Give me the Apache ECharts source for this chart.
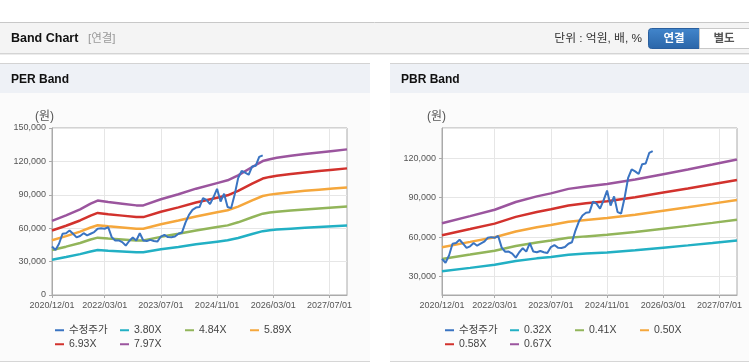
<!DOCTYPE html>
<html><head><meta charset="utf-8">
<script src="https://cdn.jsdelivr.net/npm/echarts@6/dist/echarts.min.js"></script>
<style>html,body{margin:0;padding:0;background:#fff;} #c{width:749px;height:364px;}</style>
</head><body><div id="c"></div>
<script>
// ---------- data ----------
const months = [
 '2020/12/01',
 '2021/01/01','2021/02/01','2021/03/01','2021/04/01','2021/05/01','2021/06/01','2021/07/01','2021/08/01','2021/09/01','2021/10/01','2021/11/01','2021/12/01',
 '2022/01/01','2022/02/01','2022/03/01','2022/04/01','2022/05/01','2022/06/01','2022/07/01','2022/08/01','2022/09/01','2022/10/01','2022/11/01','2022/12/01',
 '2023/01/01','2023/02/01','2023/03/01','2023/04/01','2023/05/01','2023/06/01','2023/07/01','2023/08/01','2023/09/01','2023/10/01','2023/11/01','2023/12/01',
 '2024/01/01','2024/02/01','2024/03/01','2024/04/01','2024/05/01','2024/06/01','2024/07/01','2024/08/01','2024/09/01','2024/10/01','2024/11/01','2024/12/01',
 '2025/01/01','2025/02/01','2025/03/01','2025/04/01','2025/05/01','2025/06/01','2025/07/01','2025/08/01','2025/09/01','2025/10/01','2025/11/01','2025/12/01',
 '2026/01/01','2026/02/01','2026/03/01','2026/04/01','2026/05/01','2026/06/01','2026/07/01','2026/08/01','2026/09/01','2026/10/01','2026/11/01','2026/12/01',
 '2027/01/01','2027/02/01','2027/03/01','2027/04/01','2027/05/01','2027/06/01','2027/07/01','2027/08/01','2027/09/01','2027/10/01','2027/11/01','2027/12/01'
];
const xTickLabels = ['2020/12/01','2022/03/01','2023/07/01','2024/11/01','2026/03/01','2027/07/01'];

// adjusted share price, monthly from 2020/12
const price = [43500,40500,46000,55000,55500,58000,55000,51800,53000,55500,53500,55000,56500,59500,60000,59500,60900,52000,48900,49000,47500,44400,48500,51600,49000,55500,49000,48500,49500,48500,48000,52500,54000,52000,51800,52500,55000,56100,65000,72000,76500,78500,79000,87000,85500,81600,88000,95400,84000,91000,79000,78000,90000,105000,111500,110000,108000,115500,116000,124000,125400];

// PER band (values at key months)
const perNames = ['3.80X','4.84X','5.89X','6.93X','7.97X'];
const perDates = ['2020/12/01','2021/04/01','2021/08/01','2021/11/01','2022/01/01','2022/04/01','2022/08/01','2022/12/01','2023/02/01','2023/07/01','2023/12/01','2024/05/01','2024/11/01','2025/02/01','2025/05/01','2025/09/01','2025/12/01','2026/02/01','2026/04/01','2026/08/01','2026/12/01','2027/04/01','2027/08/01','2027/12/01'];
const per380 = [31750,34090,36710,39100,40430,39810,39100,38380,38380,41000,43150,45530,47920,49110,51260,54830,57360,58170,58740,59600,60360,61030,61700,62370];
const per484 = [40450,43420,46760,49800,51500,50710,49800,48890,48890,52230,54960,58000,61030,62550,65280,69840,73060,74090,74820,75910,76880,77730,78580,79430];
const per589 = [49220,52840,56900,60600,62670,61710,60600,59490,59490,63550,66880,70570,74270,76120,79440,84990,88900,90160,91040,92380,93560,94590,95630,96660];
const per693 = [57910,62170,66950,71300,73730,72600,71300,69990,69990,74780,78690,83040,87390,89560,93470,99990,104600,106080,107120,108690,110080,111300,112510,113730];
const per797 = [66600,71500,77000,82000,84800,83500,82000,80500,80500,86000,90500,95500,100500,103000,107500,115000,120300,122000,123200,125000,126600,128000,129400,130800];

// PBR band (values at key months)
const pbrNames = ['0.32X','0.41X','0.50X','0.58X','0.67X'];
const pbrDates = ['2020/12/01','2021/08/01','2022/03/01','2022/09/01','2023/03/01','2023/07/01','2023/12/01','2024/05/01','2024/11/01','2025/07/01','2026/03/01','2026/10/01','2027/05/01','2027/12/01'];
const pbr032 = [34030,36630,38950,41790,43860,44970,46610,47480,48390,50030,52010,53740,55530,57360];
const pbr041 = [43420,46740,49690,53320,55970,57380,59470,60580,61750,63840,66360,68570,70850,73190];
const pbr050 = [52390,56390,59950,64330,67520,69230,71750,73090,74500,77020,80060,82730,85480,88300];
const pbr058 = [61420,66120,70300,75430,79170,81170,84130,85700,87350,90310,93870,97010,100220,103530];
const pbr067 = [70600,76000,80800,86700,91000,93300,96700,98500,100400,103800,107900,111500,115200,119000];

const priceName = '수정주가';
// ---------- styles ----------
const FONT = "'Liberation Sans','Noto Sans CJK KR',sans-serif";
const colors = {price:'#3a74c2', b1:'#22b0c4', b2:'#92b55a', b3:'#f5a73c', b4:'#d2322d', b5:'#9b559e'};
const bandColors = [colors.b1, colors.b2, colors.b3, colors.b4, colors.b5];

const showTick = (i, v) => xTickLabels.indexOf(v) >= 0;
const pairs = (dates, vals) => dates.map((d, k) => [d, vals[k]]);
const fmt = v => (v % 30000 === 0) ? v.toLocaleString('en-US') : '';

function xAxisOf(gi){
  return {
    type:'category', gridIndex:gi, data:months, boundaryGap:false,
    axisLine:{lineStyle:{color:'#aaa'}},
    axisTick:{show:true, interval:showTick, length:3, lineStyle:{color:'#aaa'}},
    axisLabel:{interval:showTick, fontSize:9, color:'#555', margin:6, fontFamily:FONT},
    splitLine:{show:true, interval:showTick, lineStyle:{color:'#e6e6e6'}}
  };
}
function yAxisOf(gi, min, max, interval){
  const a = {
    type:'value', gridIndex:gi, min:min, max:max,
    axisLine:{show:true, lineStyle:{color:'#aaa'}},
    axisTick:{show:true, length:3, lineStyle:{color:'#aaa'}},
    axisLabel:{fontSize:9, color:'#555', margin:6, fontFamily:FONT, formatter:fmt, showMinLabel: min===0, showMaxLabel: interval!==undefined},
    splitLine:{lineStyle:{color:'#e6e6e6'}}
  };
  if (interval !== undefined) a.interval = interval;
  return a;
}

const series = [];
function addChart(gi, names, dates, bands){
  names.forEach((n, k) => {
    series.push({
      name:n, type:'line', xAxisIndex:gi, yAxisIndex:gi, data:pairs(dates, bands[k]),
      showSymbol:false, symbol:'none', connectNulls:true,
      lineStyle:{width:2.5, color:bandColors[k]}, itemStyle:{color:bandColors[k]}, z:2
    });
  });
  series.push({
    name:priceName, type:'line', xAxisIndex:gi, yAxisIndex:gi, data:price,
    showSymbol:false, symbol:'none',
    lineStyle:{width:2, color:colors.price}, itemStyle:{color:colors.price}, z:4
  });
}
addChart(0, perNames, perDates, [per380, per484, per589, per693, per797]);
addChart(1, pbrNames, pbrDates, [pbr032, pbr041, pbr050, pbr058, pbr067]);

// legends: one per item, laid out in a 4-column grid
const legends = [];
function addLegends(offset, names){
  const all = [priceName].concat(names);
  all.forEach((n, k) => {
    legends.push({
      data:[n], left: 55 + offset + (k % 4) * 65, top: (k < 4 ? 325 : 339), padding:0,
      icon:'rect', itemWidth:9, itemHeight:2, itemGap:0,
      textStyle:{fontSize:10.5, color:'#444', fontFamily:FONT}
    });
  });
}
addLegends(0, perNames);
addLegends(390, pbrNames);

// page chrome
const T = (x, y, text, extra) => Object.assign({type:'text', x:x, y:y, z:20, silent:true,
  style:Object.assign({text:text, fontFamily:FONT, fontSize:11, fill:'#333', align:'left', verticalAlign:'middle'}, extra || {})});
const R = (x, y, w, h, style, z) => ({type:'rect', z:(z===undefined?-10:z), silent:true, shape:{x:x, y:y, width:w, height:h}, style:style});
const L = (x1, y1, x2, y2, c) => ({type:'line', z:-5, silent:true, shape:{x1:x1, y1:y1, x2:x2, y2:y2}, style:{stroke:c, lineWidth:1}});

const graphics = [
  R(0, 23, 749, 30, {fill:'#f4f4f4'}),
  L(0, 22.5, 749, 22.5, '#c8c8c8'),
  R(0, 53, 749, 1, {fill:'#d4d4d4'}),
  R(0, 54, 749, 1, {fill:'#ececec'}),
  T(11, 38.5, 'Band Chart', {fontSize:12.5, fontWeight:'bold', fill:'#111'}),
  T(88, 38.5, '[연결]', {fontSize:11.5, fill:'#999'}),
  T(642, 39, '단위 : 억원, 배, %', {fontSize:11.8, fill:'#333', align:'right'}),
  {type:'rect', z:5, silent:true, shape:{x:648.5, y:28.5, width:51, height:20, r:[3,0,0,3]},
   style:{fill:new echarts.graphic.LinearGradient(0,0,0,1,[{offset:0,color:'#4286cc'},{offset:1,color:'#2a65a8'}]), stroke:'#2a5f9e', lineWidth:1}},
  {type:'rect', z:5, silent:true, shape:{x:699.5, y:28.5, width:52, height:20}, style:{fill:'#fff', stroke:'#c8c8c8', lineWidth:1}},
  T(674, 38.5, '연결', {fontSize:11.5, fontWeight:'bold', fill:'#fff', align:'center'}),
  T(724, 38.5, '별도', {fontSize:11.5, fontWeight:'bold', fill:'#555', align:'center'}),
  // panels
  R(0, 64, 370, 29, {fill:'#eef1f6'}),
  R(0, 93, 370, 268, {fill:'#fbfbfb'}),
  L(0, 63.5, 370, 63.5, '#d3d3d3'),
  L(0, 361.5, 370, 361.5, '#d6d6d6'),
  T(11, 80, 'PER Band', {fontSize:12, fontWeight:'bold', fill:'#111'}),
  R(390, 64, 359, 29, {fill:'#eef1f6'}),
  R(390, 93, 359, 268, {fill:'#fbfbfb'}),
  L(390, 63.5, 749, 63.5, '#d3d3d3'),
  L(390, 361.5, 749, 361.5, '#d6d6d6'),
  T(401, 80, 'PBR Band', {fontSize:12, fontWeight:'bold', fill:'#111'}),
  T(35, 117, '(원)', {fontSize:12, fill:'#555'}),
  T(427, 117, '(원)', {fontSize:12, fill:'#555'})
];

const chart = echarts.init(document.getElementById('c'), null, {renderer:'canvas'});
chart.setOption({
  animation:false,
  backgroundColor:'#fff',
  textStyle:{fontFamily:FONT},
  graphic:graphics,
  legend:legends,
  grid:[
    {left:52, top:128, width:295, height:167, show:true, backgroundColor:'#fff', borderColor:'#aaa', borderWidth:1},
    {left:442, top:128, width:295, height:167, show:true, backgroundColor:'#fff', borderColor:'#aaa', borderWidth:1}
  ],
  xAxis:[xAxisOf(0), xAxisOf(1)],
  yAxis:[yAxisOf(0, 0, 150000, 30000), yAxisOf(1, 16000, 143000)],
  series:series
});
</script></body></html>
